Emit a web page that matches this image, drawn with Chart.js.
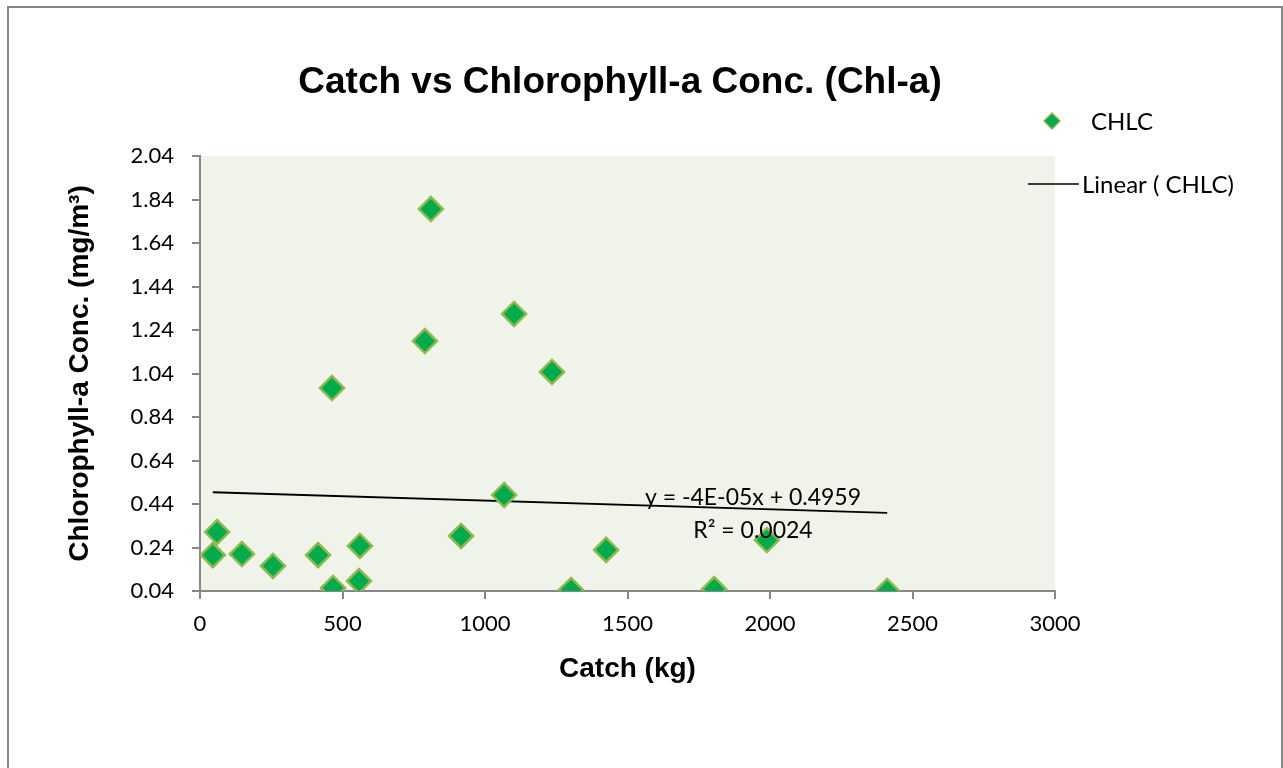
<!DOCTYPE html>
<html>
<head>
<meta charset="utf-8">
<script src="https://cdn.jsdelivr.net/npm/chart.js@4"></script>
<style>
  html, body { margin: 0; padding: 0; background: #fff; }
  #wrap { width: 1283px; height: 768px; position: relative; }
</style>
</head>
<body>
<div id="wrap"><canvas id="scatterChart" width="1283" height="768"></canvas></div>
<script>
// Dados
const catchKg = [45, 60, 147, 256, 414, 467, 561, 558, 916, 463, 810, 789, 1102, 1235, 1067, 1302, 1425, 1804, 1989, 2411];
const chlValues = [0.205, 0.311, 0.21, 0.155, 0.205, 0.054, 0.247, 0.086, 0.293, 0.973, 1.796, 1.189, 1.314, 1.047, 0.481, 0.045, 0.229, 0.049, 0.274, 0.04];
const yTicks = [0.04, 0.24, 0.44, 0.64, 0.84, 1.04, 1.24, 1.44, 1.64, 1.84, 2.04];
const xTicks = [0, 500, 1000, 1500, 2000, 2500, 3000];
const trendSlope = -0.00004;
const trendIntercept = 0.4959;
const trendRange = [45, 2411];

const points = catchKg.map((x, i) => ({ x: x, y: chlValues[i] }));
const trendPoints = trendRange.map(x => ({ x: x, y: trendSlope * x + trendIntercept }));

const axisGray = '#878787';
const tickFont = { family: 'Lato, "Open Sans", sans-serif', size: 22 };
const axisTitleFont = { family: '"Liberation Sans", Arial, sans-serif', size: 28, weight: 'bold' };

// Fundo da área do gráfico, borda externa, título, legenda e equação
const decorPlugin = {
    id: 'decor',
    beforeDraw(chart) {
        const { ctx, chartArea: a } = chart;
        ctx.save();
        ctx.fillStyle = '#F0F3EA';
        ctx.fillRect(a.left, a.top, a.right - a.left, a.bottom - a.top);
        ctx.strokeStyle = '#868686';
        ctx.lineWidth = 2;
        ctx.strokeRect(8, 7, 1274, 800);
        ctx.restore();
    },
    afterDraw(chart) {
        const { ctx } = chart;
        ctx.save();
        ctx.fillStyle = '#000';
        ctx.font = 'bold 37px "Liberation Sans", Arial, sans-serif';
        ctx.textAlign = 'center';
        ctx.textBaseline = 'middle';
        ctx.fillText('Catch vs Chlorophyll-a Conc. (Chl-a)', 620, 83);

        // legenda
        ctx.beginPath();
        ctx.moveTo(1052, 113); ctx.lineTo(1060, 121); ctx.lineTo(1052, 129); ctx.lineTo(1044, 121); ctx.closePath();
        ctx.fillStyle = '#00AB4E';
        ctx.fill();
        ctx.strokeStyle = '#8DB94A';
        ctx.lineWidth = 1.5;
        ctx.stroke();
        ctx.fillStyle = '#000';
        ctx.font = '24px Lato, "Open Sans", sans-serif';
        ctx.textAlign = 'left';
        ctx.fillText('CHLC', 1091, 122);
        ctx.beginPath();
        ctx.moveTo(1028, 184); ctx.lineTo(1079, 184);
        ctx.strokeStyle = '#000';
        ctx.lineWidth = 1.5;
        ctx.stroke();
        ctx.fillText('Linear ( CHLC)', 1082, 185);

        // equação da tendência
        ctx.font = '23px Lato, "Open Sans", sans-serif';
        ctx.textAlign = 'center';
        ctx.fillText('y = -4E-05x + 0.4959', 753, 498);
        ctx.fillText('R\u00B2 = 0.0024', 753, 531);
        ctx.restore();
    }
};

const ctx1 = document.getElementById('scatterChart').getContext('2d');
const scatterChart = new Chart(ctx1, {
    type: 'scatter',
    data: {
        datasets: [{
            label: 'Linear ( CHLC)',
            data: trendPoints,
            showLine: true,
            borderColor: '#000000',
            borderWidth: 1.8,
            pointRadius: 0,
            order: 2
        }, {
            label: 'CHLC',
            data: points,
            pointStyle: 'rectRot',
            pointRadius: 12,
            backgroundColor: '#00AB4E',
            borderColor: '#8DB94A',
            borderWidth: 2.5,
            order: 1
        }]
    },
    options: {
        responsive: false,
        animation: false,
        layout: { padding: { left: 59, right: 228, top: 156, bottom: 78 } },
        plugins: {
            legend: { display: false },
            tooltip: { enabled: false },
            title: { display: false }
        },
        scales: {
            x: {
                type: 'linear',
                min: 0,
                max: 3000,
                afterBuildTicks: s => { s.ticks = xTicks.map(v => ({ value: v })); },
                afterFit: s => { s.height = 99; },
                grid: { drawOnChartArea: false, drawTicks: true, tickLength: 8, color: axisGray, lineWidth: 2 },
                border: { color: axisGray, width: 2 },
                ticks: { color: '#000', padding: 12, font: tickFont, maxRotation: 0, callback: v => String(v) },
                title: { display: true, text: 'Catch (kg)', color: '#000', font: axisTitleFont }
            },
            y: {
                type: 'linear',
                min: 0.04,
                max: 2.04,
                afterBuildTicks: s => { s.ticks = yTicks.map(v => ({ value: v })); },
                afterFit: s => { s.width = 141; },
                grid: { drawOnChartArea: false, drawTicks: true, tickLength: 8, color: axisGray, lineWidth: 2 },
                border: { color: axisGray, width: 2 },
                ticks: { color: '#000', padding: 18, font: tickFont, callback: v => v.toFixed(2) },
                title: { display: true, text: 'Chlorophyll-a Conc. (mg/m\u00B3)', color: '#000', font: axisTitleFont }
            }
        }
    },
    plugins: [decorPlugin]
});
</script>
</body>
</html>
